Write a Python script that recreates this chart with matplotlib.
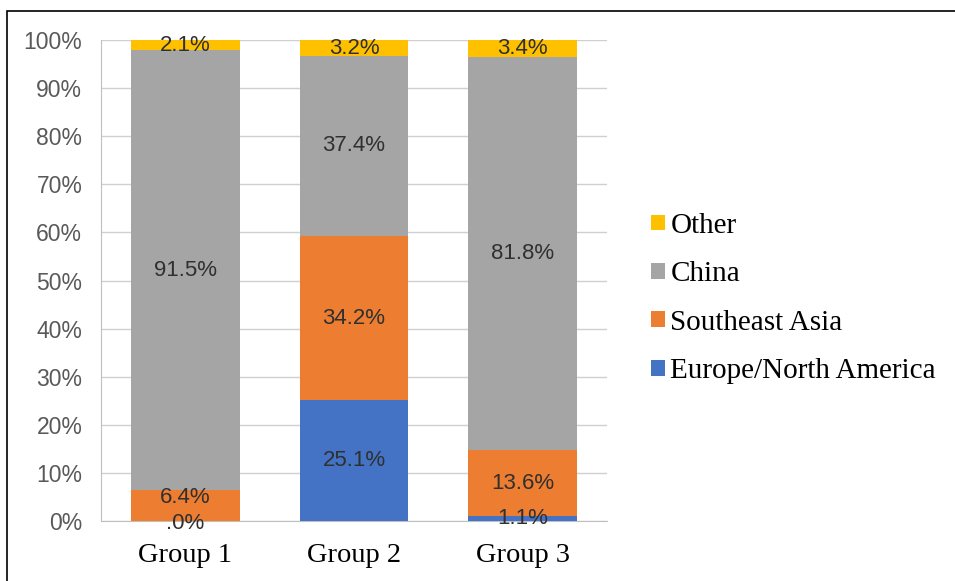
import matplotlib
matplotlib.use("Agg")
from matplotlib import pyplot as plt
from matplotlib.patches import Rectangle
import numpy as np

groups = ["Group 1", "Group 2", "Group 3"]
series = ["Europe/North America", "Southeast Asia", "China", "Other"]
europe = [0.0, 25.1, 1.1]
se_asia = [6.4, 34.2, 13.6]
china = [91.5, 37.4, 81.8]
other = [2.1, 3.2, 3.4]
colors = ["#4472C4", "#ED7D31", "#A5A5A5", "#FFC000"]

sans = ["Liberation Sans", "DejaVu Sans"]
serif = ["Liberation Serif", "DejaVu Serif"]

fig = plt.figure(figsize=(9.55, 5.81), dpi=100)
ax = fig.add_axes([101/955, 1 - 521/581, 506/955, 481/581])

# outer chart border
fig.patches.append(Rectangle((7/955, -0.1), 1.2, 1 - 11/581 + 0.1,
                             transform=fig.transFigure, fill=False,
                             edgecolor="#000000", linewidth=1.2))

x = np.arange(len(groups))
bottom = np.zeros(len(groups))
prev = None
bars = []
for name, vals, c in zip(series, [europe, se_asia, china, other], colors):
    vals = np.array(vals)
    b = ax.bar(x, vals, 0.645, bottom=bottom, color=c, label=name, zorder=3)
    bars.append(b)
    for i, (xi, v, b0) in enumerate(zip(x, vals, bottom)):
        s = "{:.1f}%".format(v)
        if s.startswith("0"):
            s = s[1:]
        # nudge labels apart when the segment below is empty
        dy = 0
        if v == 0:
            dy = -2
        elif prev is not None and prev[i] == 0:
            dy = 6
        ax.annotate(s, (xi, b0 + v / 2), xytext=(0, dy),
                    textcoords="offset points", ha="center", va="center",
                    fontsize=16, family=sans, color="#303030", zorder=4)
    bottom = bottom + vals
    prev = vals

ax.set_xlim(-0.5, 2.5)
ax.set_ylim(0, 100)
ax.set_yticks(np.arange(0, 101, 10))
ax.set_yticklabels(["{}%".format(t) for t in range(0, 101, 10)],
                   family=sans, fontsize=16.5, color="#595959")
ax.set_xticks(x)
ax.set_xticklabels(groups, family=serif, fontsize=20.5, color="#000000")
ax.tick_params(axis="y", length=0, pad=13.5)
ax.tick_params(axis="x", length=0, pad=15.5)
ax.grid(axis="y", color="#D0D0D0", linewidth=1, zorder=0)
for side in ["top", "right"]:
    ax.spines[side].set_visible(False)
for side in ["left", "bottom"]:
    ax.spines[side].set_color("#BFBFBF")

handles = [b.patches[0] for b in bars][::-1]
ax.legend(handles, series[::-1], loc="center left",
          bbox_to_anchor=(1.036, 0.4626), frameon=False,
          prop={"family": serif, "size": 21},
          handlelength=0.45, handleheight=0.45, handletextpad=0.2,
          labelspacing=0.77)

fig.savefig("out.png", dpi=100)
